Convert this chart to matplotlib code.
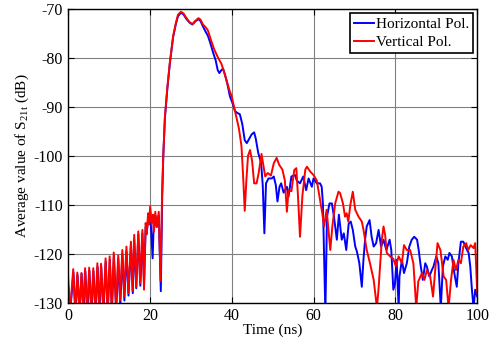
import matplotlib
matplotlib.use("Agg")
import matplotlib.pyplot as plt

# Vertical polarisation (red): time (ns), average S21t (dB)
t_vert = [0.0, 0.5, 1.3, 1.8, 2.3, 2.8, 3.3, 3.75, 4.2, 4.7, 5.2, 5.7, 6.2, 6.7,
          7.2, 7.65, 8.1, 8.65, 9.2, 9.7, 10.2, 10.7, 11.2, 11.75, 12.3, 12.75,
          13.3, 13.75, 14.3, 14.8, 15.4, 15.8, 16.2, 16.7, 17.2, 17.65, 18.2, 18.6,
          19.0, 19.25, 19.6, 19.85, 20.1, 20.45, 20.8, 21.0, 21.35, 21.65, 22.2,
          22.65, 23.0, 23.3, 23.7, 24.3, 24.9, 25.7, 26.4, 26.9, 27.6, 28.2, 28.9,
          29.7, 30.4, 31.2, 31.9, 32.4, 33.0, 33.6, 34.2, 35.0, 35.8, 36.7, 37.5,
          38.2, 38.9, 39.5, 40.0, 40.6, 41.2, 41.8, 42.4, 42.8, 43.2, 43.6, 44.0,
          44.5, 45.0, 45.5, 46.1, 46.6, 47.3, 48.2, 48.8, 49.6, 50.3, 51.0, 51.6,
          52.4, 53.0, 53.5, 53.9, 54.6, 55.3, 55.8, 56.2, 56.7, 57.3, 58.0, 58.4,
          59.2, 60.0, 60.8, 61.6, 62.2, 62.6, 63.2, 64.1, 64.6, 65.3, 66.1, 66.5,
          67.2, 67.7, 68.1, 68.5, 69.0, 69.6, 70.2, 71.0, 71.8, 72.2, 73.0, 73.8,
          74.7, 75.5, 75.9, 76.7, 77.1, 77.5, 77.9, 78.7, 79.5, 80.1, 80.8, 81.6,
          82.1, 82.8, 83.6, 84.4, 85.1, 85.6, 86.5, 87.1, 87.7, 88.5, 89.2, 89.8,
          90.3, 91.0, 91.8, 92.4, 93.0, 93.6, 94.2, 94.8, 95.4, 96.0, 96.6, 97.3,
          97.8, 98.4, 99.1, 99.5, 100.0]
db_vert = [-124.0, -132, -123.1, -132, -123.8, -132, -123.9, -132, -122.9, -132,
           -122.8, -132, -122.9, -132, -121.9, -132, -122.0, -132, -120.9, -132,
           -120.5, -131, -119.7, -131, -120.3, -129.4, -119.2, -128.7, -118.5,
           -128.0, -117.5, -127.5, -116.1, -126.7, -115.4, -126.0, -115.1, -127.3,
           -113.7, -116.0, -111.7, -114.0, -110.3, -113.7, -112.0, -115.5, -111.4,
           -114.5, -111.4, -125.5, -108.0, -100.0, -92.0, -86.0, -81.0, -75.6,
           -72.8, -71.2, -70.6, -70.9, -71.8, -72.7, -73.1, -72.4, -71.9, -72.2,
           -73.2, -73.7, -74.4, -76.5, -78.4, -80.0, -81.2, -83.0, -85.0, -86.7,
           -87.8, -90.0, -92.2, -94.5, -98.0, -104.0, -111.2, -105.0, -100.0,
           -98.8, -101.0, -105.6, -105.6, -103.5, -99.6, -104.2, -103.5, -104.0,
           -101.5, -100.4, -101.8, -102.8, -105.0, -111.4, -107.0, -107.2, -102.9,
           -102.5, -108.0, -116.5, -108.0, -102.8, -102.2, -103.2, -103.9, -105.0,
           -109.0, -112.0, -114.4, -111.0, -119.2, -114.4, -109.7, -107.3, -107.6,
           -109.7, -112.4, -111.7, -113.4, -110.0, -107.3, -111.0, -112.4, -113.4,
           -115.0, -119.2, -121.9, -125.3, -131, -127.0, -117.0, -114.4, -116.1,
           -119.8, -120.5, -121.0, -122.5, -120.5, -121.9, -118.2, -119.2, -119.2,
           -121.9, -131, -125.6, -123.9, -125.3, -123.3, -124.6, -128.7, -122.6,
           -117.8, -119.2, -124.6, -125.3, -131, -125.3, -121.2, -123.3, -121.2,
           -121.9, -118.5, -117.8, -119.2, -118.2, -118.8, -117.8, -128.0]

# Horizontal polarisation (blue)
t_hor = [0.0, 0.55, 1.35, 1.85, 2.35, 2.85, 3.35, 3.8, 4.25, 4.75, 5.25, 5.75,
         6.25, 6.75, 7.25, 7.7, 8.15, 8.7, 9.25, 9.75, 10.25, 10.75, 11.25, 11.8,
         12.3, 12.8, 13.3, 13.8, 14.3, 14.8, 15.4, 15.85, 16.2, 16.7, 17.2, 17.7,
         18.2, 18.6, 19.0, 19.3, 19.6, 19.9, 20.1, 20.7, 21.0, 21.4, 21.7, 22.2,
         22.7, 23.05, 23.3, 23.7, 24.3, 24.9, 25.7, 26.4, 26.9, 27.6, 28.2, 28.9,
         29.7, 30.4, 31.2, 31.9, 32.4, 33.0, 33.6, 34.2, 34.8, 35.5, 36.1, 36.6,
         37.0, 37.5, 37.9, 38.4, 39.0, 39.6, 40.2, 40.8, 41.3, 42.0, 42.6, 43.2,
         43.7, 44.3, 44.9, 45.5, 45.9, 46.5, 47.2, 47.6, 48.0, 48.4, 49.0, 49.8,
         50.3, 50.8, 51.2, 51.7, 52.1, 52.7, 53.5, 53.9, 54.6, 55.5, 55.9, 56.7,
         57.5, 58.2, 58.8, 59.6, 60.0, 60.8, 61.6, 62.0, 62.3, 62.9, 63.3, 63.9,
         64.5, 65.0, 65.7, 66.2, 66.9, 67.4, 68.0, 68.6, 69.1, 69.6, 70.2, 70.6,
         71.2, 71.8, 72.2, 72.6, 73.0, 73.7, 74.2, 74.7, 75.3, 75.9, 76.5, 77.1,
         77.8, 78.6, 79.0, 79.5, 79.9, 80.3, 80.8, 81.0, 81.6, 82.1, 82.8, 83.4,
         84.0, 84.6, 85.3, 85.7, 86.1, 86.7, 87.3, 87.7, 88.3, 88.9, 89.3, 90.0,
         90.5, 91.1, 91.6, 92.2, 92.8, 93.2, 93.8, 94.4, 95.0, 95.4, 96.0, 96.6,
         97.1, 97.5, 97.9, 98.3, 98.7, 99.1, 99.5, 100.0]
db_hor = [-125.5, -132, -123.8, -132, -124.3, -132, -124.0, -132, -123.5, -132,
          -123.4, -132, -123.5, -132, -122.6, -132, -122.7, -132, -121.6, -132,
          -121.2, -132, -120.4, -132, -121.0, -130.5, -120.0, -129.5, -119.5,
          -128.5, -118.2, -128.0, -117.0, -127.0, -116.0, -126.5, -115.8, -126.0,
          -114.5, -115.5, -112.8, -113.5, -111.5, -120.9, -113.0, -112.2, -114.5,
          -112.2, -127.6, -108.0, -100.0, -92.3, -86.2, -81.2, -75.8, -73.0,
          -71.5, -70.8, -71.1, -72.0, -72.8, -73.2, -72.5, -72.1, -72.5, -73.6,
          -74.6, -75.5, -77.0, -79.0, -80.5, -82.5, -83.1, -82.5, -82.2, -83.5,
          -85.5, -87.9, -89.2, -90.8, -91.2, -91.5, -93.5, -96.8, -97.4, -96.5,
          -95.6, -95.2, -96.5, -99.4, -101.4, -106.0, -115.8, -105.6, -104.6,
          -104.6, -104.2, -106.0, -109.3, -106.3, -105.6, -107.5, -106.3, -108.3,
          -104.2, -103.9, -105.0, -105.6, -104.2, -107.0, -104.6, -106.3, -104.6,
          -105.6, -105.6, -106.3, -109.7, -132, -112.4, -109.7, -109.7, -112.4,
          -117.1, -112.0, -117.1, -115.8, -119.2, -113.8, -113.4, -115.1, -118.5,
          -119.5, -121.9, -126.7, -121.2, -117.1, -114.4, -113.1, -116.5, -118.5,
          -117.8, -115.1, -118.5, -117.1, -119.2, -117.1, -119.2, -127.3, -126.0,
          -121.2, -131, -124.6, -121.2, -123.9, -121.9, -118.5, -117.1, -116.5,
          -117.1, -119.2, -121.9, -125.3, -121.9, -122.6, -124.6, -123.3, -122.6,
          -120.5, -121.9, -131, -122.6, -120.5, -121.2, -119.8, -120.5, -123.9,
          -126.7, -121.9, -117.5, -117.5, -118.5, -119.2, -119.8, -122.6, -127.3,
          -131, -127.3, -128.7]

x_ticks = [0, 20, 40, 60, 80, 100]
y_ticks = [-130, -120, -110, -100, -90, -80, -70]

plt.rcParams['font.family'] = 'Liberation Serif'
plt.rcParams['mathtext.fontset'] = 'custom'
plt.rcParams['mathtext.rm'] = 'Liberation Serif'
plt.rcParams['mathtext.it'] = 'Liberation Serif:italic'
plt.rcParams['axes.unicode_minus'] = False

fig = plt.figure(figsize=(4.92, 3.4), dpi=100)
ax = fig.add_axes([0.138, 0.109, 0.832, 0.865])

ax.plot(t_hor, db_hor, color='#0000ff', lw=1.4, label='Horizontal Pol.')
ax.plot(t_vert, db_vert, color='#ff0000', lw=1.4, label='Vertical Pol.')

ax.set_xlim(0, 100)
ax.set_ylim(-130, -70)
ax.set_xticks(x_ticks)
ax.set_yticks(y_ticks)
ax.grid(True, color='#808080', lw=0.8)
ax.tick_params(direction='in', top=True, right=True, labelsize=11.5, length=4)
for s in ax.spines.values():
    s.set_linewidth(1.0)

ax.set_xlabel('Time (ns)', fontsize=11, labelpad=0)
ax.set_ylabel(r'Average value of S$_{\mathrm{21t}}$ (dB)', fontsize=11, labelpad=2)

leg = ax.legend(loc='upper right', fontsize=11, handlelength=1.3, handletextpad=0.1,
                borderpad=0.25, labelspacing=0.3, borderaxespad=0.3, fancybox=False,
                framealpha=1)
leg.get_frame().set_edgecolor('black')
leg.get_frame().set_linewidth(1.2)

plt.savefig('out.png', dpi=100)
